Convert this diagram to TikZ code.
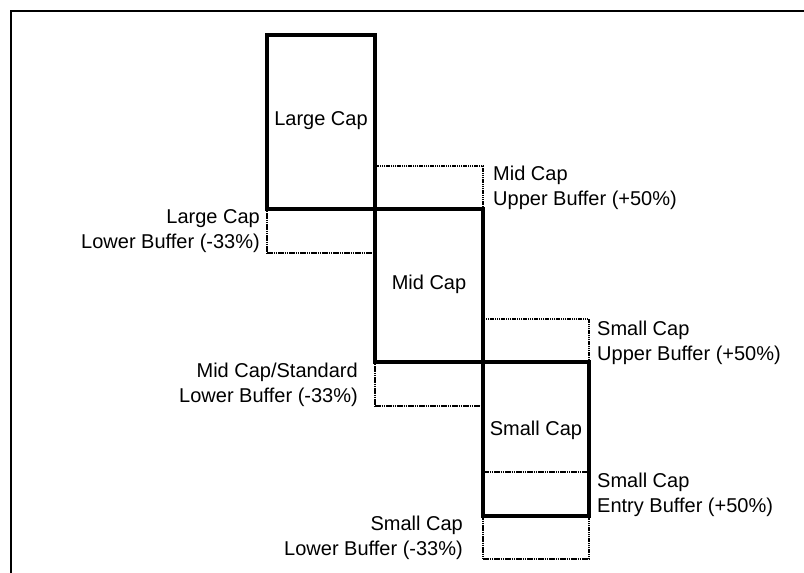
\documentclass[tikz,border=0pt]{standalone}
\usepackage{fontspec}
\setmainfont{Liberation Sans}
\begin{document}
\begin{tikzpicture}[x=1pt, y=1pt,
    capBox/.style={rectangle, draw, line width=4pt, inner sep=0pt},
    bufferBox/.style={rectangle, draw, line width=2pt, dash pattern=on 1.5pt off 0.7pt, inner sep=0pt},
    capText/.style={inner sep=0pt, font=\fontsize{20}{25}\selectfont},
    sideText/.style={inner sep=0pt, font=\fontsize{20}{25}\selectfont}]
    \useasboundingbox (0,0) rectangle (804,-573);
    \draw[line width=1.8pt] (11,-573) -- (11,-11) -- (804,-11);

    % buffers
    \node[bufferBox, minimum width=108, minimum height=43](midUpper) at (429,-187.5) {};
    \node[bufferBox, minimum width=108, minimum height=44](largeLower) at (321,-231) {};
    \node[bufferBox, minimum width=106, minimum height=43](smallUpper) at (536,-340.5) {};
    \node[bufferBox, minimum width=108, minimum height=44](midLower) at (429,-384) {};
    \node[bufferBox, minimum width=106, minimum height=43](smallLower) at (536,-537.5) {};
    \coordinate (entryL) at (483,-472);
    \coordinate (entryR) at (589,-472);
    \draw[line width=2pt, dash pattern=on 1.5pt off 0.7pt] (entryL) -- (entryR);

    % caps
    \node[capBox, minimum width=108, minimum height=174](largeBox) at (321,-122) {};
    \node[capBox, minimum width=108, minimum height=153](midBox) at (429,-285.5) {};
    \node[capBox, minimum width=106, minimum height=154](smallBox) at (536,-439) {};

    \node[capText](largeLabel) at (321,-121) {Large Cap};
    \node[capText](midLabel) at (429,-284) {Mid Cap};
    \node[capText](smallLabel) at (536,-430) {Small Cap};

    \node[sideText, anchor=west, align=left](midUpperText) at (493,-188) {Mid Cap\\Upper Buffer (+50\%)};
    \node[sideText, anchor=east, align=right](largeLowerText) at (260,-231.5) {Large Cap\\Lower Buffer (-33\%)};
    \node[sideText, anchor=west, align=left](smallUpperText) at (597,-343) {Small Cap\\Upper Buffer (+50\%)};
    \node[sideText, anchor=east, align=right](midLowerText) at (358,-385) {Mid Cap/Standard\\Lower Buffer (-33\%)};
    \node[sideText, anchor=west, align=left](entryText) at (597,-495) {Small Cap\\Entry Buffer (+50\%)};
    \node[sideText, anchor=east, align=right](smallLowerText) at (463,-538) {Small Cap\\Lower Buffer (-33\%)};
\end{tikzpicture}
\end{document}
